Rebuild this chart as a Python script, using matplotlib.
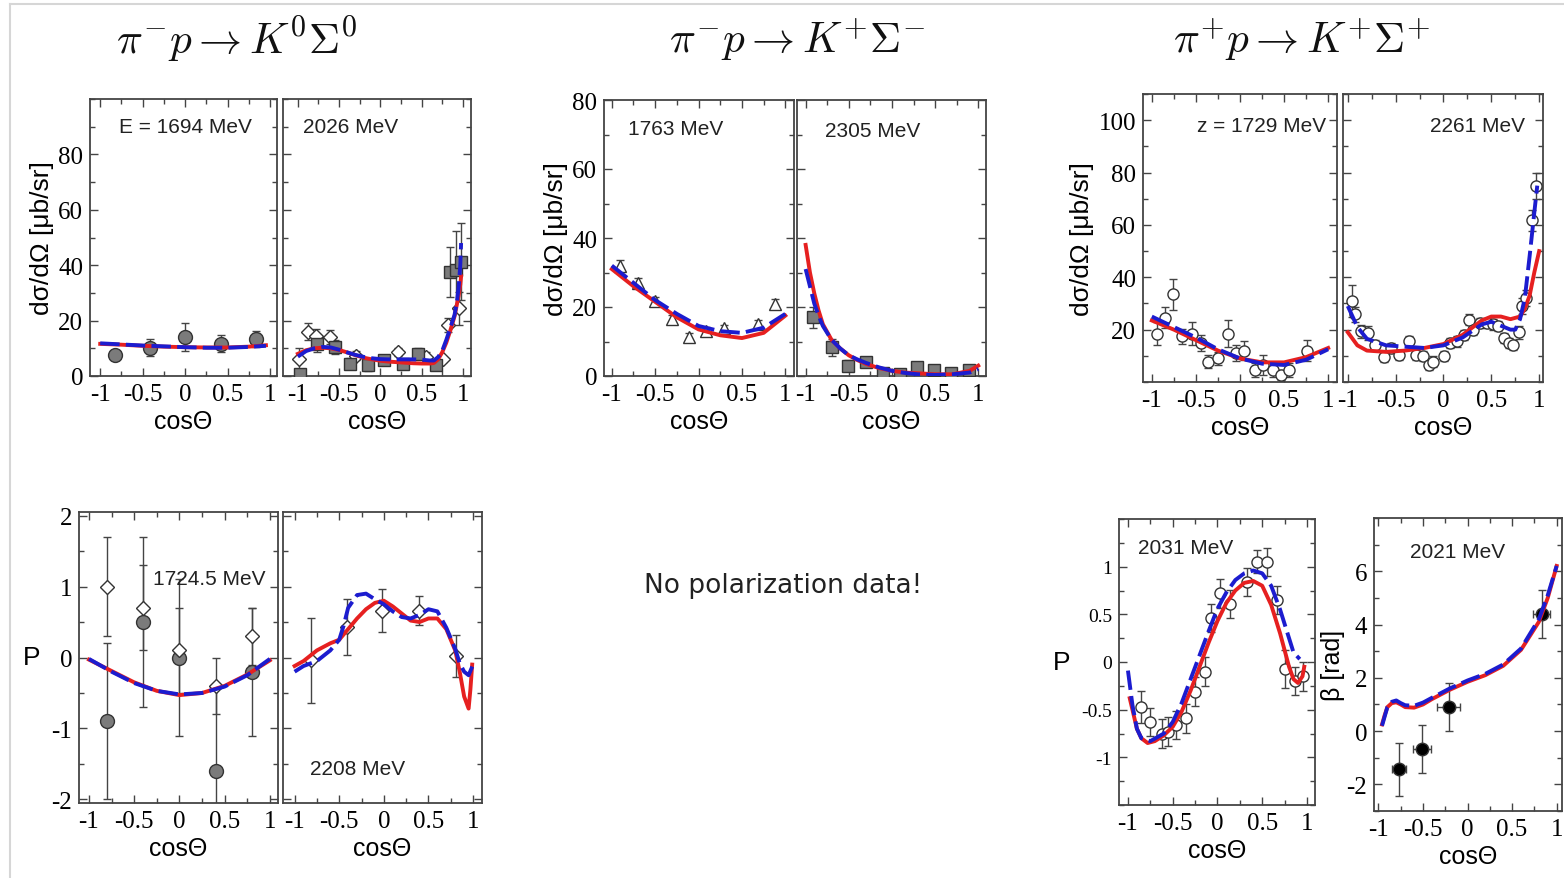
import numpy as np
import matplotlib.pyplot as plt
from matplotlib.lines import Line2D
from matplotlib.ticker import MultipleLocator, FixedLocator

plt.rcParams['mathtext.fontset'] = 'cm'

W, H = 1564, 879
BLUE = '#1c1ccf'
RED = '#e62020'
GRAY = '#7b7b7b'

# ---- pi- p -> K0 Sigma0, dsigma/dOmega, 1694 MeV ----
k0_1694_x = [-0.83, -0.42, 0.0, 0.42, 0.83]
k0_1694_y = [7.5, 10.2, 14.1, 11.7, 13.3]
k0_1694_e = [0.0, 3.0, 5.0, 3.0, 3.0]
k0_1694_cx = [-1.0, -0.75, -0.5, -0.25, 0.0, 0.25, 0.5, 0.75, 0.95]
k0_1694_blue = [11.8, 11.4, 11.0, 10.7, 10.4, 10.2, 10.2, 10.5, 10.9]
k0_1694_red = [11.6, 11.3, 10.9, 10.6, 10.4, 10.3, 10.3, 10.6, 11.1]

# ---- pi- p -> K0 Sigma0, dsigma/dOmega, 2026 MeV ----
k0_2026_sq_x = [-0.97, -0.77, -0.55, -0.37, -0.15, 0.05, 0.28, 0.46, 0.68, 0.84, 0.92, 0.98]
k0_2026_sq_y = [0.7, 11.6, 10.5, 4.4, 3.8, 5.6, 4.4, 8.0, 3.8, 37.7, 38.3, 41.3]
k0_2026_sq_e = [0.0, 3.0, 2.5, 2.0, 2.0, 1.5, 1.5, 2.0, 1.5, 9.0, 14.0, 14.0]
k0_2026_di_x = [-0.98, -0.88, -0.78, -0.61, -0.29, 0.22, 0.55, 0.76, 0.82, 0.96]
k0_2026_di_y = [6.0, 16.0, 14.5, 14.0, 7.4, 8.6, 7.0, 6.0, 18.3, 24.4]
k0_2026_di_e = [4.0, 3.0, 2.5, 2.5, 1.5, 1.5, 1.5, 1.0, 2.5, 6.0]
k0_2026_cx = [-1.0, -0.9, -0.8, -0.7, -0.6, -0.5, -0.4, -0.3, -0.2, -0.1, 0.0, 0.1, 0.2, 0.3,
              0.4, 0.5, 0.6, 0.65, 0.7, 0.75, 0.8, 0.85, 0.9, 0.93, 0.95, 0.97, 0.98]
k0_2026_blue = [7.0, 9.0, 10.0, 10.5, 10.3, 9.5, 8.5, 7.6, 6.9, 6.4, 6.1, 6.0, 6.0, 6.0,
                6.0, 5.9, 5.6, 5.6, 6.8, 9.0, 13.0, 17.5, 22.0, 27.0, 32.0, 40.0, 48.0]
k0_2026_red = [8.0, 9.3, 10.0, 10.2, 10.0, 9.4, 8.5, 7.5, 6.6, 6.0, 5.5, 5.2, 5.0, 4.8,
               4.6, 4.5, 4.5, 4.7, 6.0, 8.5, 12.0, 16.5, 21.5, 26.0, 29.0, 33.0, 36.0]

# ---- pi- p -> K+ Sigma-, dsigma/dOmega, 1763 MeV ----
kp_1763_x = [-0.9, -0.7, -0.5, -0.31, -0.11, 0.09, 0.29, 0.69, 0.88]
kp_1763_y = [32.0, 27.0, 21.6, 16.5, 11.4, 13.1, 13.9, 15.1, 20.9]
kp_1763_e = [1.5, 1.5, 1.2, 1.2, 1.0, 1.0, 1.0, 1.2, 1.5]
kp_1763_cx = [-1.0, -0.75, -0.5, -0.25, 0.0, 0.25, 0.5, 0.75, 1.0]
kp_1763_blue = [32.0, 27.0, 22.0, 18.0, 14.5, 13.0, 12.5, 14.0, 18.0]
kp_1763_red = [31.0, 26.0, 21.5, 17.0, 13.5, 11.8, 11.0, 12.5, 17.5]

# ---- pi- p -> K+ Sigma-, dsigma/dOmega, 2305 MeV ----
kp_2305_x = [-0.92, -0.7, -0.51, -0.3, -0.1, 0.09, 0.29, 0.49, 0.69, 0.89]
kp_2305_y = [17.0, 8.3, 3.0, 4.0, 1.0, 0.6, 2.5, 1.8, 1.0, 1.8]
kp_2305_e = [3.0, 2.5, 1.5, 1.0, 0.6, 0.5, 0.8, 0.6, 0.5, 0.8]
kp_2305_cx = [-1.0, -0.95, -0.9, -0.85, -0.8, -0.7, -0.6, -0.5, -0.4, -0.3, -0.15, 0.0,
              0.15, 0.3, 0.5, 0.7, 0.9, 1.0]
kp_2305_blue = [31.0, 26.0, 21.0, 17.5, 14.5, 10.5, 8.0, 6.0, 4.8, 3.8, 2.5, 1.5,
                0.9, 0.5, 0.3, 0.5, 1.0, 2.0]
kp_2305_red = [38.0, 30.0, 24.0, 19.0, 15.0, 10.5, 8.0, 6.0, 4.6, 3.5, 2.3, 1.5,
               1.0, 0.8, 0.5, 0.5, 1.5, 3.0]

# ---- pi+ p -> K+ Sigma+, dsigma/dOmega, 1729 MeV ----
kpp_1729_x = [-0.94, -0.85, -0.76, -0.66, -0.55, -0.44, -0.36, -0.25, -0.14, -0.04,
              0.05, 0.17, 0.26, 0.37, 0.47, 0.56, 0.76]
kpp_1729_y = [18.5, 24.5, 33.5, 17.4, 18.5, 14.9, 7.8, 9.1, 18.5, 11.0,
              12.0, 4.6, 6.5, 4.6, 2.7, 4.6, 12.0]
kpp_1729_e = [4.5, 4.0, 6.0, 3.0, 4.5, 3.0, 2.5, 2.5, 5.0, 3.0,
              3.5, 2.5, 4.0, 2.5, 2.0, 2.5, 4.0]
kpp_1729_cx = [-1.0, -0.75, -0.5, -0.25, 0.0, 0.25, 0.5, 0.75, 1.0]
kpp_1729_blue = [25.0, 21.0, 17.0, 12.5, 9.0, 7.0, 6.5, 8.5, 12.5]
kpp_1729_red = [23.5, 20.0, 16.0, 12.0, 9.0, 7.5, 7.5, 9.5, 13.0]

# ---- pi+ p -> K+ Sigma+, dsigma/dOmega, 2261 MeV ----
kpp_2261_x = [-0.96, -0.92, -0.86, -0.79, -0.72, -0.62, -0.55, -0.46, -0.36, -0.29,
              -0.21, -0.15, -0.11, 0.01, 0.07, 0.14, 0.21, 0.27, 0.31, 0.38,
              0.45, 0.52, 0.57, 0.63, 0.68, 0.73, 0.79, 0.82, 0.86, 0.92, 0.97]
kpp_2261_y = [30.9, 25.8, 19.4, 18.7, 14.2, 9.7, 12.9, 10.4, 15.5, 10.4,
              10.0, 6.5, 7.8, 10.0, 14.9, 15.5, 18.0, 23.8, 20.0, 22.6,
              22.6, 22.0, 21.3, 16.8, 14.9, 14.2, 19.0, 29.0, 32.0, 61.7, 75.0]
kpp_2261_e = [6.0, 3.0, 2.5, 2.5, 2.0, 2.0, 2.0, 2.0, 2.0, 2.0,
              2.0, 2.0, 2.0, 2.0, 2.0, 2.0, 2.0, 2.0, 2.0, 2.0,
              2.0, 2.0, 2.0, 2.0, 2.0, 2.0, 2.5, 3.0, 3.0, 4.0, 5.0]
kpp_2261_cx = [-1.0, -0.9, -0.8, -0.6, -0.4, -0.2, 0.0, 0.2, 0.4, 0.5, 0.6, 0.7,
               0.75, 0.8, 0.85, 0.9, 0.95, 0.98]
kpp_2261_blue = [29.0, 21.0, 16.5, 14.0, 13.5, 13.0, 14.0, 17.0, 22.0, 23.0, 21.5, 20.0,
                 20.0, 24.0, 32.0, 48.0, 65.0, 75.0]
kpp_2261_red_x = [-1.0, -0.9, -0.8, -0.6, -0.4, -0.2, 0.0, 0.2, 0.4, 0.5, 0.6, 0.7,
                  0.8, 0.85, 0.9, 0.95, 1.0]
kpp_2261_red = [19.0, 14.0, 12.0, 11.5, 12.0, 13.0, 14.5, 18.0, 23.5, 25.0, 25.0, 24.0,
                25.0, 28.0, 33.0, 42.0, 50.0]

# ---- pi- p -> K0 Sigma0, polarisation, 1724.5 MeV ----
pol_1724_x = [-0.8, -0.4, 0.0, 0.4, 0.8]
pol_1724_di = [1.0, 0.7, 0.1, -0.4, 0.3]
pol_1724_di_e = [0.7, 0.6, 0.6, 0.4, 0.4]
pol_1724_ci = [-0.9, 0.5, 0.0, -1.6, -0.2]
pol_1724_ci_e = [1.1, 1.2, 1.1, 1.2, 0.9]
pol_1724_cx = [-1.0, -0.75, -0.5, -0.25, 0.0, 0.25, 0.5, 0.75, 1.0]
pol_1724_blue = [-0.02, -0.2, -0.36, -0.47, -0.52, -0.5, -0.41, -0.25, -0.02]
pol_1724_red = [-0.03, -0.19, -0.35, -0.47, -0.53, -0.5, -0.4, -0.24, -0.04]

# ---- pi- p -> K0 Sigma0, polarisation, 2208 MeV ----
pol_2208_x = [-0.82, -0.41, -0.02, 0.39, 0.81]
pol_2208_y = [-0.04, 0.43, 0.66, 0.66, 0.02]
pol_2208_e = [0.6, 0.4, 0.3, 0.2, 0.3]
pol_2208_bx = [-1.0, -0.9, -0.75, -0.6, -0.5, -0.45, -0.4, -0.3, -0.2, -0.1, 0.0, 0.1,
               0.2, 0.3, 0.4, 0.5, 0.6, 0.7, 0.8, 0.85, 0.9, 0.95, 1.0]
pol_2208_blue = [-0.2, -0.12, -0.05, 0.1, 0.25, 0.45, 0.7, 0.88, 0.9, 0.82, 0.75, 0.65,
                 0.57, 0.55, 0.6, 0.68, 0.65, 0.42, 0.12, -0.08, -0.2, -0.25, -0.1]
pol_2208_rx = [-1.0, -0.9, -0.75, -0.6, -0.5, -0.4, -0.3, -0.2, -0.1, 0.0, 0.1, 0.2,
               0.3, 0.4, 0.5, 0.6, 0.7, 0.8, 0.85, 0.9, 0.95, 0.97, 0.99]
pol_2208_red = [-0.12, -0.05, 0.1, 0.2, 0.25, 0.4, 0.55, 0.68, 0.77, 0.8, 0.72, 0.62,
                0.52, 0.5, 0.55, 0.55, 0.4, 0.1, -0.2, -0.55, -0.72, -0.45, -0.1]

# ---- pi+ p -> K+ Sigma+, polarisation, 2031 MeV ----
pol_2031_x = [-0.85, -0.75, -0.62, -0.55, -0.46, -0.35, -0.25, -0.14, -0.07, 0.03,
              0.14, 0.33, 0.44, 0.55, 0.66, 0.76, 0.87, 0.96]
pol_2031_y = [-0.47, -0.63, -0.75, -0.73, -0.66, -0.59, -0.31, -0.1, 0.46, 0.72,
              0.61, 0.84, 1.05, 1.05, 0.65, -0.07, -0.2, -0.15]
pol_2031_e = [0.17, 0.15, 0.15, 0.15, 0.15, 0.15, 0.15, 0.15, 0.15, 0.15,
              0.15, 0.15, 0.12, 0.15, 0.15, 0.2, 0.15, 0.15]
pol_2031_bx = [-1.0, -0.95, -0.9, -0.85, -0.75, -0.6, -0.5, -0.4, -0.3, -0.2, -0.1, 0.0,
               0.1, 0.2, 0.3, 0.4, 0.5, 0.6, 0.7, 0.8, 0.85, 0.92]
pol_2031_blue = [-0.09, -0.45, -0.7, -0.8, -0.83, -0.75, -0.63, -0.43, -0.18, 0.07, 0.32,
                 0.56, 0.73, 0.86, 0.93, 0.96, 0.93, 0.8, 0.55, 0.25, 0.1, 0.03]
pol_2031_rx = [-0.98, -0.9, -0.85, -0.78, -0.7, -0.6, -0.5, -0.4, -0.3, -0.2, -0.1, 0.0,
               0.1, 0.2, 0.3, 0.4, 0.5, 0.6, 0.7, 0.8, 0.85, 0.9, 0.95, 0.97]
pol_2031_red = [-0.38, -0.7, -0.8, -0.85, -0.83, -0.77, -0.68, -0.52, -0.3, -0.05, 0.2,
                0.43, 0.62, 0.75, 0.83, 0.85, 0.8, 0.6, 0.3, -0.05, -0.18, -0.22, -0.15, -0.05]

# ---- pi+ p -> K+ Sigma+, spin rotation angle beta, 2021 MeV ----
beta_2021_x = [-0.77, -0.51, -0.21, 0.83]
beta_2021_y = [-1.43, -0.68, 0.89, 4.38]
beta_2021_ye = [1.0, 0.9, 0.9, 0.9]
beta_2021_xe = [0.08, 0.1, 0.13, 0.1]
beta_2021_cx = [-0.96, -0.93, -0.9, -0.85, -0.8, -0.75, -0.7, -0.6, -0.5, -0.4, -0.2, 0.0,
                0.2, 0.4, 0.6, 0.8, 0.9, 1.0]
beta_2021_blue = [0.2, 0.55, 0.9, 1.1, 1.15, 1.05, 0.97, 0.95, 1.07, 1.25, 1.6, 1.9,
                  2.15, 2.5, 3.1, 4.2, 5.1, 6.2]
beta_2021_red = [0.25, 0.6, 0.9, 1.05, 1.08, 1.0, 0.9, 0.88, 1.0, 1.2, 1.55, 1.85,
                 2.1, 2.45, 3.05, 4.1, 5.0, 6.2]


fig = plt.figure(figsize=(W / 100, H / 100), dpi=100)
fig.patch.set_facecolor('white')

# thin frame along the top and left edge
fig.add_artist(Line2D([10 / W, 1], [1 - 5 / H, 1 - 5 / H], color='#d6d6d6', lw=1.5))
fig.add_artist(Line2D([10 / W, 10 / W], [0, 1 - 5 / H], color='#d6d6d6', lw=1.5))


def panel(x0, y0, x1, y1):
    ax = fig.add_axes([x0 / W, 1 - y1 / H, (x1 - x0) / W, (y1 - y0) / H])
    for s in ax.spines.values():
        s.set_color('#444444')
        s.set_linewidth(1.3)
    ax.tick_params(which='both', direction='in', top=True, right=True,
                   color='#444444', width=1.0)
    ax.tick_params(which='major', length=6, labelsize=18, pad=5)
    ax.tick_params(which='minor', length=3.5)
    ax.xaxis.set_major_locator(FixedLocator([-1, -0.5, 0, 0.5, 1]))
    ax.set_xticklabels(['-1', '-0.5', '0', '0.5', '1'], family='Liberation Serif')
    ax.xaxis.set_minor_locator(MultipleLocator(0.25))
    ax.set_xlabel('cosΘ', family='Liberation Sans', fontsize=18, labelpad=3)
    return ax


def yaxis(ax, ticks, labels, minor):
    ax.set_yticks(ticks)
    if labels is None:
        ax.set_yticklabels([])
    else:
        ax.set_yticklabels(labels, family='Liberation Serif')
    ax.yaxis.set_minor_locator(MultipleLocator(minor))


def curves(ax, bx, by, rx, ry):
    ax.plot(rx, ry, color=RED, lw=2.8, zorder=4)
    ax.plot(bx, by, color=BLUE, lw=2.8, ls=(0, (5, 1.6)), zorder=5)


def errpts(ax, x, y, e, marker, face, size=8, xerr=None):
    ax.errorbar(x, y, yerr=e, xerr=xerr, fmt=marker, ms=size, mfc=face, mec='#333333',
                mew=1.0, ecolor='#444444', elinewidth=1.0, capsize=3, zorder=3)


def energy(ax, x, y, s, ha='left'):
    ax.text(x, y, s, transform=ax.transAxes, ha=ha, va='center',
            family='Liberation Sans', fontsize=15, color='#222222')


DSDO = 'dσ/dΩ [μb/sr]'

# top left pair
ax = panel(90, 100, 277, 377)
errpts(ax, k0_1694_x, k0_1694_y, k0_1694_e, 'o', GRAY, 10)
curves(ax, k0_1694_cx, k0_1694_blue, k0_1694_cx, k0_1694_red)
ax.set_xlim(-1.12, 1.08)
ax.set_ylim(0, 100)
yaxis(ax, [0, 20, 40, 60, 80], ['0', '20', '40', '60', '80'], 10)
ax.set_ylabel(DSDO, family='Liberation Sans', fontsize=19, labelpad=3)
energy(ax, 0.51, 0.90, 'E = 1694 MeV', ha='center')

ax = panel(283, 100, 471, 377)
errpts(ax, k0_2026_di_x, k0_2026_di_y, k0_2026_di_e, 'D', 'white', 7)
errpts(ax, k0_2026_sq_x, k0_2026_sq_y, k0_2026_sq_e, 's', GRAY, 9)
curves(ax, k0_2026_cx, k0_2026_blue, k0_2026_cx, k0_2026_red)
ax.set_xlim(-1.18, 1.1)
ax.set_ylim(0, 100)
yaxis(ax, [0, 20, 40, 60, 80], None, 10)
energy(ax, 0.106, 0.90, '2026 MeV')

# top middle pair
ax = panel(604, 101, 794, 377)
errpts(ax, kp_1763_x, kp_1763_y, kp_1763_e, '^', 'white', 8)
curves(ax, kp_1763_cx, kp_1763_blue, kp_1763_cx, kp_1763_red)
ax.set_xlim(-1.09, 1.1)
ax.set_ylim(0, 80)
yaxis(ax, [0, 20, 40, 60, 80], ['0', '20', '40', '60', '80'], 10)
ax.set_ylabel(DSDO, family='Liberation Sans', fontsize=19, labelpad=3)
energy(ax, 0.126, 0.895, '1763 MeV')

ax = panel(797, 101, 986, 377)
errpts(ax, kp_2305_x, kp_2305_y, kp_2305_e, 's', GRAY, 8)
curves(ax, kp_2305_cx, kp_2305_blue, kp_2305_cx, kp_2305_red)
ax.set_xlim(-1.1, 1.09)
ax.set_ylim(0, 80)
yaxis(ax, [0, 20, 40, 60, 80], None, 10)
energy(ax, 0.148, 0.888, '2305 MeV')

# top right pair
ax = panel(1143, 95, 1337, 383)
errpts(ax, kpp_1729_x, kpp_1729_y, kpp_1729_e, 'o', 'white', 8)
curves(ax, kpp_1729_cx, kpp_1729_blue, kpp_1729_cx, kpp_1729_red)
ax.set_xlim(-1.1, 1.1)
ax.set_ylim(0, 110)
yaxis(ax, [20, 40, 60, 80, 100], ['20', '40', '60', '80', '100'], 10)
ax.set_ylabel(DSDO, family='Liberation Sans', fontsize=19, labelpad=3)
energy(ax, 0.945, 0.89, 'z = 1729 MeV', ha='right')

ax = panel(1343, 95, 1543, 383)
errpts(ax, kpp_2261_x, kpp_2261_y, kpp_2261_e, 'o', 'white', 8)
curves(ax, kpp_2261_cx, kpp_2261_blue, kpp_2261_red_x, kpp_2261_red)
ax.set_xlim(-1.05, 1.04)
ax.set_ylim(0, 110)
yaxis(ax, [20, 40, 60, 80, 100], None, 10)
energy(ax, 0.91, 0.89, '2261 MeV', ha='right')

# bottom left pair
ax = panel(79, 513, 278, 804)
errpts(ax, pol_1724_x, pol_1724_ci, pol_1724_ci_e, 'o', GRAY, 10)
errpts(ax, pol_1724_x, pol_1724_di, pol_1724_di_e, 'D', 'white', 7)
curves(ax, pol_1724_cx, pol_1724_blue, pol_1724_cx, pol_1724_red)
ax.set_xlim(-1.11, 1.09)
ax.set_ylim(-2.05, 2.05)
yaxis(ax, [-2, -1, 0, 1, 2], ['-2', '-1', '0', '1', '2'], 0.5)
ax.set_ylabel('P', family='Liberation Sans', fontsize=19, rotation=0,
              va='center', labelpad=14)
energy(ax, 0.37, 0.77, '1724.5 MeV')

ax = panel(283, 513, 482, 804)
errpts(ax, pol_2208_x, pol_2208_y, pol_2208_e, 'D', 'white', 7)
curves(ax, pol_2208_bx, pol_2208_blue, pol_2208_rx, pol_2208_red)
ax.set_xlim(-1.13, 1.1)
ax.set_ylim(-2.05, 2.05)
yaxis(ax, [-2, -1, 0, 1, 2], None, 0.5)
energy(ax, 0.136, 0.117, '2208 MeV')

# bottom right panels
ax = panel(1119, 520, 1315, 806)
errpts(ax, pol_2031_x, pol_2031_y, pol_2031_e, 'o', 'white', 8)
curves(ax, pol_2031_bx, pol_2031_blue, pol_2031_rx, pol_2031_red)
ax.set_xlim(-1.1, 1.09)
ax.set_ylim(-1.5, 1.5)
yaxis(ax, [-1, -0.5, 0, 0.5, 1], ['-1', '-0.5', '0', '0.5', '1'], 0.25)
ax.tick_params(axis='y', labelsize=14)
ax.set_ylabel('P', family='Liberation Sans', fontsize=19, rotation=0,
              va='center', labelpad=14)
energy(ax, 0.097, 0.90, '2031 MeV')

ax = panel(1374, 519, 1562, 812)
errpts(ax, beta_2021_x, beta_2021_y, beta_2021_ye, 'o', 'black', 9, xerr=beta_2021_xe)
curves(ax, beta_2021_cx, beta_2021_blue, beta_2021_cx, beta_2021_red)
ax.set_xlim(-1.05, 1.06)
ax.set_ylim(-3, 8)
yaxis(ax, [-2, 0, 2, 4, 6], ['-2', '0', '2', '4', '6'], 1)
ax.set_ylabel('β [rad]', family='Liberation Sans', fontsize=18, labelpad=1)
energy(ax, 0.19, 0.884, '2021 MeV')

# reaction headings
fig.text(237 / W, 1 - 40 / H, r'$\pi^{-}p \rightarrow K^{0}\Sigma^{0}$', ha='center',
         va='center', fontsize=31, color='#111111')
fig.text(797 / W, 1 - 40 / H, r'$\pi^{-}p \rightarrow K^{+}\Sigma^{-}$', ha='center',
         va='center', fontsize=31, color='#111111')
fig.text(1302 / W, 1 - 40 / H, r'$\pi^{+}p \rightarrow K^{+}\Sigma^{+}$', ha='center',
         va='center', fontsize=31, color='#111111')

fig.text(783 / W, 1 - 586 / H, 'No polarization data!', ha='center', va='center',
         family='DejaVu Sans', fontsize=19, color='#222222')

fig.savefig('out.png', dpi=100)
